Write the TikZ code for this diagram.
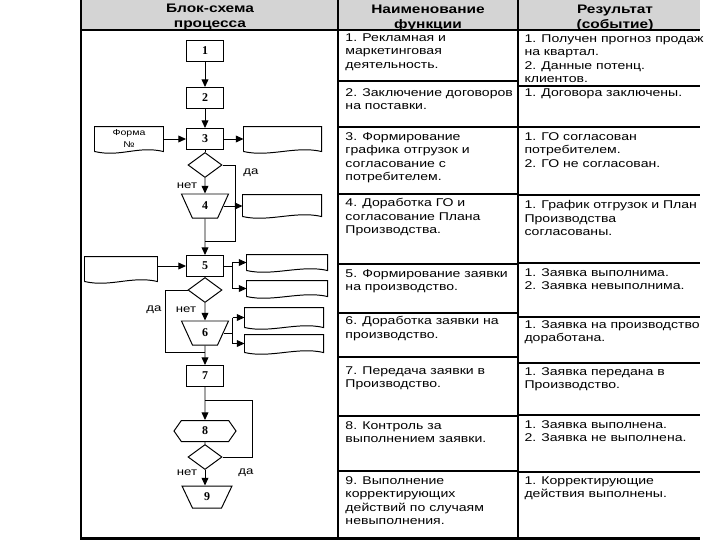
\documentclass[tikz,border=0pt]{standalone}
\usepackage{fontspec}
\setmainfont{Liberation Serif}
\newfontfamily\cellfont[FakeStretch=1.25]{Liberation Sans}
\usetikzlibrary{arrows.meta,calc,shapes.geometric,shapes.symbols}

% document symbol drawn round a plain node
\newcommand{\docshape}[1]{%
  \draw (#1.south west) -- (#1.north west) -- (#1.north east) -- (#1.south east)
    .. controls +(-26,-6) and +(26,6) .. (#1.south west);}

\begin{document}
\begin{tikzpicture}[x=0.025cm,y=-0.025cm,line width=0.7pt,
  >={Triangle[length=5.4pt,width=4.8pt]},
  procbox/.style={draw,minimum width=0.925cm,minimum height=0.525cm,inner sep=0pt,
    font=\bfseries\fontsize{8.5}{9}\selectfont},
  decision/.style={draw,diamond,minimum width=0.85cm,minimum height=0.625cm,inner sep=0pt},
  manual/.style={draw,trapezium,trapezium stretches=true,shape border rotate=180,
    trapezium angle=72,minimum width=1.175cm,minimum height=0.6cm,inner sep=0pt,
    font=\bfseries\fontsize{8.5}{9}\selectfont},
  prep/.style={draw,signal,signal to=east and west,signal pointer angle=110,
    minimum width=1.55cm,minimum height=0.525cm,inner sep=0pt,
    font=\bfseries\fontsize{8.5}{9}\selectfont},
  docbox/.style 2 args={minimum width=#1,minimum height=#2,inner sep=0pt,align=center,
    font=\cellfont\fontsize{6}{8.5}\selectfont},
  yesno/.style={inner sep=0pt,font=\cellfont\fontsize{7.5}{9}\selectfont},
  cell/.style={anchor=north west,inner sep=0pt,align=left,
    font=\cellfont\fontsize{8}{9.6}\selectfont},
  head/.style={anchor=north,inner sep=0pt,align=center,
    font=\cellfont\bfseries\fontsize{8.8}{10.7}\selectfont},
  thickrule/.style={line width=1.5pt},
  thinrule/.style={line width=0.8pt}]
  \useasboundingbox (0,0) rectangle (720,540);

  % table
  \fill[black!17] (81,0) rectangle (700,30);
  \draw[thinrule] (81,30) -- (700,30);
  \draw[thickrule] (81,0) -- (81,538.5) -- (700,538.5);
  \draw[thickrule] (338,0) -- (338,538.5) (518,0) -- (518,538.5);
  \draw[thickrule] (338,81) -- (518,81) (338,264) -- (518,264)
    (338,416) -- (518,416) (338,471) -- (518,471);
  \draw[thinrule] (338,127) -- (518,127) (338,194) -- (518,194)
    (338,313) -- (518,313) (338,357) -- (518,357);
  \draw[thickrule] (518,263) -- (700,263) (518,415) -- (700,415) (518,472) -- (700,472);
  \draw[thinrule] (518,86) -- (700,86) (518,127) -- (700,127) (518,195) -- (700,195)
    (518,317) -- (700,317) (518,363) -- (700,363);

  \node[head] (hb) at (210,3) {Блок-схема\\процесса};
  \node[head] (hf) at (428,4) {Наименование\\функции};
  \node[head] (hr) at (615,4) {Результат\\(событие)};

  \node[cell] (f1) at (345,33) {1. Рекламная и\\маркетинговая\\деятельность.};
  \node[cell] (f2) at (345,88) {2. Заключение договоров\\на поставки.};
  \node[cell] (f3) at (345,132) {3. Формирование\\графика отгрузок и\\согласование с\\потребителем.};
  \node[cell] (f4) at (345,198) {4. Доработка ГО и\\согласование Плана\\Производства.};
  \node[cell] (f5) at (345,269) {5. Формирование заявки\\на производство.};
  \node[cell] (f6) at (345,316) {6. Доработка заявки на\\производство.};
  \node[cell] (f7) at (345,366) {7. Передача заявки в\\Производство.};
  \node[cell] (f8) at (345,421) {8. Контроль за\\выполнением заявки.};
  \node[cell] (f9) at (345,476) {9. Выполнение\\корректирующих\\действий по случаям\\невыполнения.};

  \node[cell] (r1) at (524,34) {1. Получен прогноз продаж\\на квартал.\\2. Данные потенц.\\клиентов.};
  \node[cell] (r2) at (524,88) {1. Договора заключены.};
  \node[cell] (r3) at (524,132) {1. ГО согласован\\потребителем.\\2. ГО не согласован.};
  \node[cell] (r4) at (524,200) {1. График отгрузок и План\\Производства\\согласованы.};
  \node[cell] (r5) at (524,268) {1. Заявка выполнима.\\2. Заявка невыполнима.};
  \node[cell] (r6) at (524,320) {1. Заявка на производство\\доработана.};
  \node[cell] (r7) at (524,367) {1. Заявка передана в\\Производство.};
  \node[cell] (r8) at (524,420) {1. Заявка выполнена.\\2. Заявка не выполнена.};
  \node[cell] (r9) at (524,476) {1. Корректирующие\\действия выполнены.};

  % flowchart
  \node[procbox] (b1) at (205,51) {1};
  \node[procbox] (b2) at (205,98) {2};
  \node[procbox] (b3) at (205,139) {3};
  \node[decision] (d1) at (205,165) {};
  \node[manual] (t4) at (205,206) {4};
  \node[procbox] (b5) at (205,266) {5};
  \node[decision] (d2) at (205,290) {};
  \node[manual] (t6) at (205,333) {6};
  \node[procbox] (b7) at (205,376) {7};
  \node[prep] (h8) at (205,431) {8};
  \node[decision] (d3) at (205,457) {};
  \node[manual,minimum width=1.25cm,minimum height=0.55cm,trapezium angle=75] (t9) at (207,497) {9};

  \node[docbox={1.7cm}{0.6cm}] (form) at (129,139) {Форма\\№};
  \node[docbox={1.925cm}{0.6cm}] (o3) at (282.5,139) {};
  \node[docbox={1.95cm}{0.525cm}] (o4) at (282,205.5) {};
  \node[docbox={1.8cm}{0.6cm}] (i5) at (121,269) {};
  \node[docbox={2cm}{0.375cm}] (o5a) at (287,262.5) {};
  \node[docbox={2cm}{0.375cm}] (o5b) at (287,288.5) {};
  \node[docbox={1.95cm}{0.475cm}] (o6a) at (284,317.5) {};
  \node[docbox={1.95cm}{0.425cm}] (o6b) at (284,343.5) {};
  \docshape{form} \docshape{o3} \docshape{o4} \docshape{i5}
  \docshape{o5a} \docshape{o5b} \docshape{o6a} \docshape{o6b}

  \coordinate (j45) at (205,241);
  \coordinate (j67) at (205,352);
  \coordinate (j78) at (205,400);
  \coordinate (s5) at ($(b5.east)+(8,0)$);
  \coordinate (s6) at ($(t6.east)+(9,0)$);

  \draw[->] (b1) -- (b2);
  \draw[->] (b2) -- (b3);
  \draw[->] (form) -- (b3);
  \draw[->] (b3) -- (o3);
  \draw (b3) -- (d1);
  \draw[->] (d1) -- (t4);
  \draw (d1.east) -- ++(13,0) |- (j45);
  \draw[->] (t4.east) -- (t4.east -| o4.west);
  \draw[->] (t4) -- (b5);
  \draw[->] (i5.east |- b5.west) -- (b5.west);
  \draw (b5.east) -- (s5);
  \draw (s5 |- o5a.west) -- (s5 |- o5b.west);
  \draw[->] (s5 |- o5a.west) -- (o5a.west);
  \draw[->] (s5 |- o5b.west) -- (o5b.west);
  \draw (b5) -- (d2);
  \draw[->] (d2) -- (t6);
  \draw (d2.west) -- ++(-22,0) |- (j67);
  \draw (t6.east) -- (s6);
  \draw (s6 |- o6a.west) -- (s6 |- o6b.west);
  \draw[->] (s6 |- o6a.west) -- (o6a.west);
  \draw[->] (s6 |- o6b.west) -- (o6b.west);
  \draw[->] (t6) -- (b7);
  \draw[->] (b7) -- (h8);
  \draw (h8) -- (d3);
  \draw[->] (d3) -- (d3 |- t9.north);
  \draw (d3.east) -- ++(30,0) |- (j78);

  \node[yesno] (no1) at (187,186) {нет};
  \node[yesno] (yes1) at (251,173) {да};
  \node[yesno] (no2) at (186,310) {нет};
  \node[yesno] (yes2) at (154,310) {да};
  \node[yesno] (no3) at (187,473) {нет};
  \node[yesno] (yes3) at (246,473) {да};
\end{tikzpicture}
\end{document}
